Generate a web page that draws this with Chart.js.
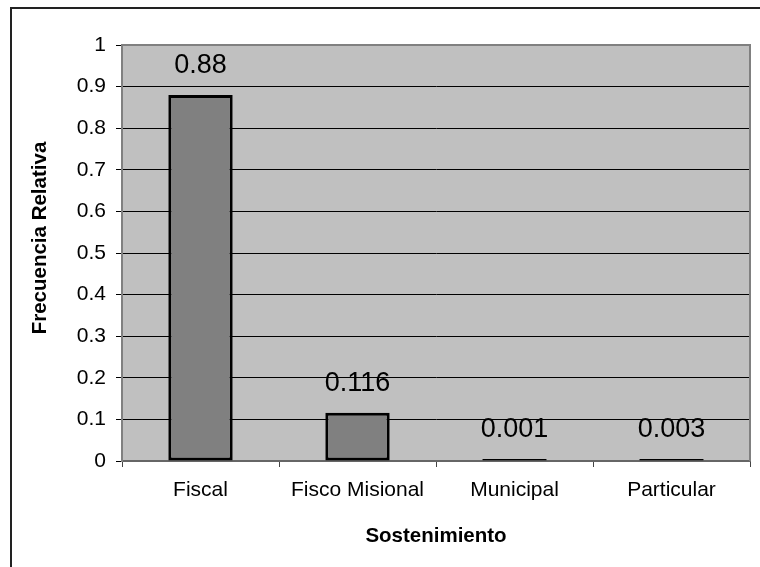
<!DOCTYPE html>
<html lang="es">
<head>
<meta charset="utf-8">
<title>Frecuencia Relativa por Sostenimiento</title>
<script src="https://cdn.jsdelivr.net/npm/chart.js@4"></script>
<style>
  html, body { margin: 0; padding: 0; background: #fff; }
  .box { width: 760px; height: 567px; }
</style>
</head>
<body>
<div class="box"><canvas id="chart" width="760" height="567"></canvas></div>
<script>
const categories = ['Fiscal', 'Fisco Misional', 'Municipal', 'Particular'];
const frecuencia = [0.88, 0.116, 0.001, 0.003];
const yTitle = 'Frecuencia Relativa';
const xTitle = 'Sostenimiento';

const FONT = '"Liberation Sans", Arial, sans-serif';

// gray plot area + top/right frame, outer box of the figure
const frame = {
  id: 'frame',
  beforeDraw(chart) {
    const { ctx, chartArea: a } = chart;
    ctx.save();
    ctx.strokeStyle = '#222';
    ctx.lineWidth = 2;
    ctx.strokeRect(11, 8, 800, 600);
    ctx.fillStyle = '#c0c0c0';
    ctx.fillRect(a.left, a.top, a.right - a.left, a.bottom - a.top);
    ctx.restore();
  },
  beforeDatasetsDraw(chart) {
    const { ctx, chartArea: a } = chart;
    ctx.save();
    ctx.strokeStyle = '#808080';
    ctx.lineWidth = 2;
    ctx.beginPath();
    ctx.moveTo(a.left, a.top);
    ctx.lineTo(a.right, a.top);
    ctx.lineTo(a.right, a.bottom);
    ctx.stroke();
    ctx.restore();
  }
};

// value above each bar + rotated y title
const labels = {
  id: 'labels',
  afterDatasetsDraw(chart) {
    const { ctx } = chart;
    const meta = chart.getDatasetMeta(0);
    ctx.save();
    ctx.fillStyle = '#000';
    ctx.font = '27px ' + FONT;
    ctx.textAlign = 'center';
    ctx.textBaseline = 'middle';
    meta.data.forEach((bar, i) => {
      ctx.fillText(String(frecuencia[i]), bar.x, bar.y - 29);
    });
    ctx.translate(40.5, 238);
    ctx.rotate(-Math.PI / 2);
    ctx.font = 'bold 20.5px ' + FONT;
    ctx.fillText(yTitle, 0, 0);
    ctx.restore();
  }
};

new Chart(document.getElementById('chart'), {
  type: 'bar',
  data: {
    labels: categories,
    datasets: [{
      data: frecuencia,
      backgroundColor: '#808080',
      borderColor: '#000',
      borderWidth: 3,
      borderSkipped: false,
      minBarLength: 2,
      barPercentage: 0.41,
      categoryPercentage: 1
    }]
  },
  options: {
    responsive: false,
    animation: false,
    layout: { padding: { left: 0, top: 45, right: 10, bottom: 0 } },
    plugins: { legend: { display: false }, tooltip: { enabled: false } },
    scales: {
      x: {
        afterFit(s) { s.height = 106; },
        grid: { drawOnChartArea: false, tickLength: 6, tickColor: '#444', offset: true },
        border: { color: '#666', width: 2 },
        ticks: { color: '#000', font: { family: FONT, size: 21 }, padding: 11 },
        title: {
          display: true, text: xTitle, color: '#000',
          font: { family: FONT, size: 20.5, weight: 'bold' },
          padding: { top: 0, bottom: 18 }
        }
      },
      y: {
        min: 0, max: 1,
        afterFit(s) { s.width = 122; },
        ticks: {
          stepSize: 0.1, color: '#000', padding: 10,
          font: { family: FONT, size: 21 },
          callback: v => String(+v.toFixed(1))
        },
        grid: {
          color: c => (c.tick && (c.tick.value === 1 || c.tick.value === 0)) ? '#808080' : '#000',
          tickColor: '#000', tickLength: 6, lineWidth: 1
        },
        border: { color: '#808080', width: 2 }
      }
    }
  },
  plugins: [frame, labels]
});
</script>
</body>
</html>
